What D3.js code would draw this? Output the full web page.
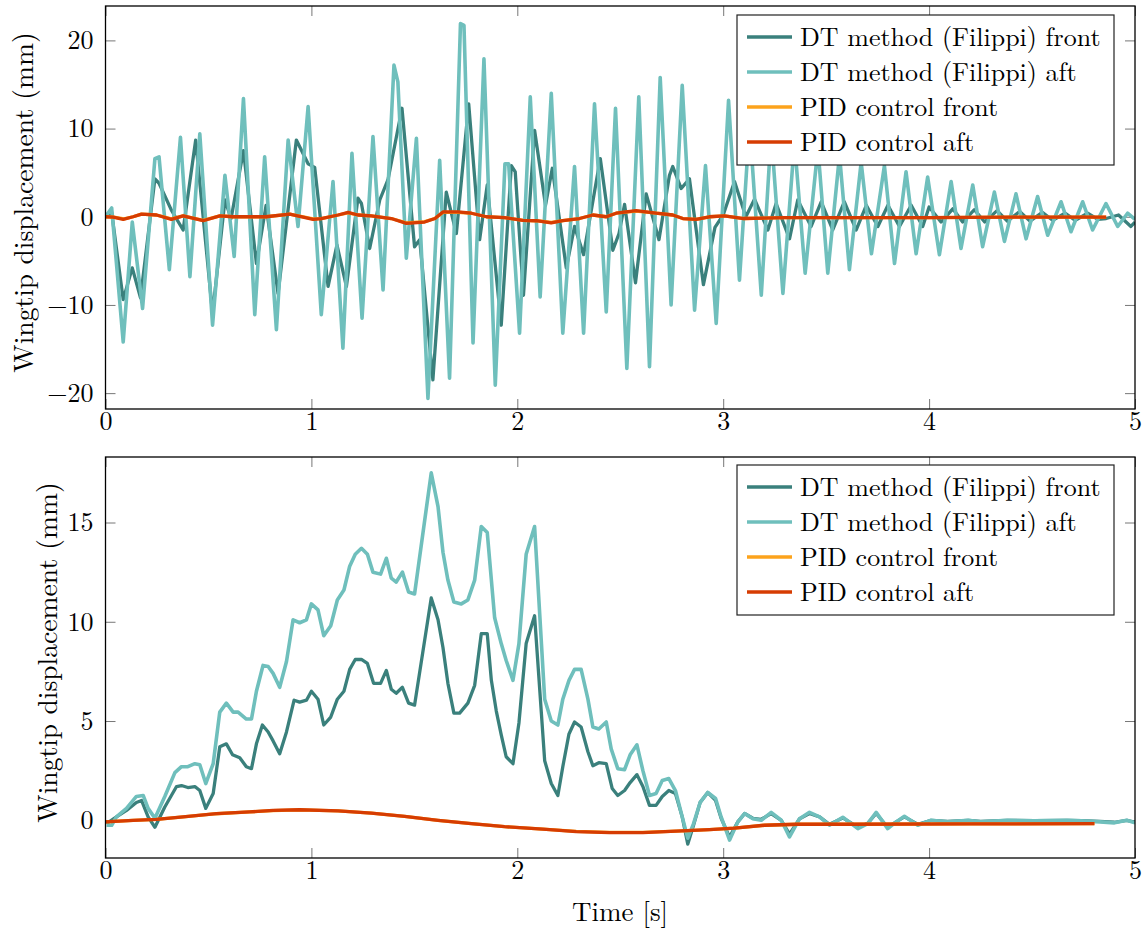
<!DOCTYPE html>
<html><head><meta charset="utf-8">
<script src="https://cdn.jsdelivr.net/npm/d3@7"></script>
<style>
body{margin:0;background:#fff}
svg{display:block}
</style>
</head><body>
<svg id="c" width="1145" height="928"></svg>
<script>
// ---------- labels / ticks ----------
const seriesNames = ["DT method (Filippi) front","DT method (Filippi) aft","PID control front","PID control aft"];
const seriesColors = ["#3a807c","#6fbfbc","#fca31c","#d63c02"];
const xTicks = [0,1,2,3,4,5];
const topYTicks = [-20,-10,0,10,20];
const botYTicks = [0,5,10,15];
const yTitle = "Wingtip displacement (mm)";
const xTitle = "Time [s]";

// ---------- top panel data: [time s, displacement mm] ----------
const topFrontDT = [[0,0],[0.03,0.5],[0.086,-9.4],[0.13,-5.8],[0.17,-9.2],[0.24,4.3],[0.26,3.8],[0.32,0.75],[0.377,-1.5],[0.438,8.7],[0.52,-11],[0.58,1.9],[0.61,-0.2],[0.67,7.5],[0.733,-5.3],[0.78,1.3],[0.838,-8.7],[0.927,8.7],[0.984,6],[1.016,5.6],[1.081,-7.9],[1.124,-3.2],[1.17,-7.9],[1.226,2.1],[1.243,1.5],[1.283,-3.6],[1.332,1.9],[1.372,4.2],[1.44,12.3],[1.501,-3.4],[1.526,-2.6],[1.59,-18.5],[1.655,2.8],[1.704,-1.9],[1.764,12.8],[1.817,-2.6],[1.854,3.6],[1.922,-12.3],[1.971,5.8],[1.99,5.1],[2.03,-8.9],[2.084,9.8],[2.137,1.3],[2.17,5.5],[2.238,-5.8],[2.278,-1.1],[2.322,-4.3],[2.403,6.6],[2.464,-3.8],[2.494,-1.9],[2.521,1.4],[2.574,-7.5],[2.626,2.6],[2.688,-2.6],[2.739,4.7],[2.755,5.7],[2.796,3.2],[2.836,4.3],[2.904,-7.7],[2.96,-1.2],[3.0,0.2],[3.055,4.0],[3.11,0],[3.152,2.0],[3.217,-1.5],[3.257,1.5],[3.322,-2.5],[3.362,1.9],[3.427,-1.1],[3.476,1.7],[3.532,-1.5],[3.588,1.7],[3.646,-1.5],[3.695,1.3],[3.751,-1.1],[3.8,1.3],[3.856,-1.1],[3.913,1.3],[3.969,-1.1],[4.0,1.1],[4.058,-0.6],[4.115,0.9],[4.163,-0.6],[4.22,0.8],[4.27,-0.6],[4.33,0.7],[4.38,-0.5],[4.44,0.6],[4.49,-0.5],[4.55,0.5],[4.6,-0.4],[4.66,0.4],[4.71,-0.4],[4.77,0.4],[4.82,-0.3],[4.86,-0.2],[4.92,0.2],[4.98,-1.1],[5.0,-0.6]];
const topAftDT = [[0,0],[0.03,1.0],[0.086,-14.2],[0.13,-0.6],[0.18,-10.4],[0.24,6.6],[0.26,6.8],[0.31,-6],[0.364,9],[0.41,-6.8],[0.458,9.4],[0.52,-12.3],[0.58,4.7],[0.625,-4.5],[0.67,13.4],[0.725,-11.1],[0.773,6.8],[0.83,-12.8],[0.887,8.7],[0.935,-1.1],[0.984,12.5],[1.048,-11.1],[1.105,4],[1.153,-14.9],[1.197,7.2],[1.246,-11.5],[1.299,9.1],[1.348,-8.3],[1.401,17.2],[1.42,15.3],[1.461,-4.7],[1.51,8.9],[1.566,-20.6],[1.623,6.4],[1.671,-18.3],[1.724,21.9],[1.741,21.7],[1.785,-14.3],[1.838,17.9],[1.893,-19.1],[1.94,6.0],[1.958,6.0],[2.011,-13.2],[2.063,13.6],[2.111,-9.1],[2.165,14.0],[2.221,-13.2],[2.278,5.7],[2.322,-13.2],[2.375,12.8],[2.432,-10.8],[2.477,12.3],[2.532,-17.2],[2.59,13.6],[2.642,-17],[2.694,15.8],[2.747,-10],[2.801,14.9],[2.861,-10.6],[2.914,5.8],[2.966,-12.1],[3.026,13.2],[3.079,-7.2],[3.128,10.5],[3.185,-8.9],[3.233,9.5],[3.29,-8.7],[3.346,8.5],[3.398,-6.4],[3.46,7.8],[3.508,-6.4],[3.565,7],[3.613,-6],[3.67,6.2],[3.72,-4.2],[3.783,5.8],[3.832,-5.3],[3.888,5.1],[3.937,-4.2],[3.993,4.5],[4.05,-4.3],[4.107,4],[4.155,-3.6],[4.212,3.6],[4.26,-3.4],[4.317,2.8],[4.366,-2.8],[4.422,2.6],[4.471,-2.5],[4.527,2.3],[4.576,-2.1],[4.641,1.7],[4.689,-1.7],[4.746,1.7],[4.794,-1.5],[4.859,1.5],[4.916,-1.1],[4.964,0.4],[5.0,-0.3]];
const topPidAft = [[0,0],[0.037,-0.05],[0.086,-0.3],[0.134,0],[0.175,0.3],[0.248,0.2],[0.32,-0.3],[0.377,0.1],[0.474,-0.45],[0.555,0.1],[0.62,0],[0.78,0],[0.895,0.3],[1.008,-0.3],[1.048,-0.2],[1.13,0.2],[1.178,0.5],[1.226,0.2],[1.291,0.1],[1.388,-0.2],[1.461,-0.75],[1.55,-0.6],[1.6,-0.2],[1.639,0.55],[1.712,0.55],[1.777,0.4],[1.85,0],[1.938,-0.1],[2.027,-0.4],[2.092,-0.45],[2.165,-0.7],[2.221,-0.45],[2.302,-0.2],[2.367,0.2],[2.432,0],[2.48,0.4],[2.577,0.7],[2.674,0.4],[2.755,0.2],[2.804,-0.2],[2.868,-0.3],[2.933,0],[3.006,0.1],[3.1,-0.2],[3.3,-0.1],[3.6,-0.1],[4.0,-0.1],[4.4,-0.05],[4.86,-0.05]];
const topPidFront = [[0,0],[0.04,-0.05],[0.09,-0.25],[0.134,0],[0.175,0.3],[0.248,0.2],[0.32,-0.25],[0.377,0.1],[0.474,-0.4],[0.555,0.1],[0.62,0],[0.78,0],[0.895,0.3],[1.008,-0.25],[1.048,-0.2],[1.13,0.2],[1.178,0.45],[1.226,0.2],[1.291,0.1],[1.388,-0.2],[1.461,-0.7],[1.55,-0.55],[1.6,-0.2],[1.639,0.5],[1.712,0.5],[1.777,0.4],[1.85,0],[1.938,-0.1],[2.027,-0.4],[2.092,-0.45],[2.165,-0.65],[2.221,-0.45],[2.302,-0.2],[2.367,0.2],[2.432,0],[2.48,0.4],[2.577,0.65],[2.674,0.4],[2.755,0.2],[2.804,-0.2],[2.868,-0.3],[2.933,0],[3.006,0.1],[3.1,-0.2],[3.3,-0.1],[3.6,-0.1],[4.0,-0.1],[4.4,-0.05],[4.86,-0.05]];

// ---------- bottom panel data ----------
const botFrontDT = [[0.005,-0.17],[0.053,0.17],[0.102,0.5],[0.15,0.9],[0.175,1.0],[0.207,0.17],[0.24,-0.35],[0.288,0.67],[0.345,1.7],[0.369,1.75],[0.40,1.65],[0.434,1.7],[0.458,1.5],[0.487,0.6],[0.523,1.35],[0.555,3.7],[0.587,3.85],[0.617,3.3],[0.652,3.15],[0.684,2.7],[0.709,2.6],[0.733,3.85],[0.762,4.8],[0.79,4.45],[0.814,4.0],[0.846,3.35],[0.879,4.45],[0.916,6.05],[0.943,5.95],[0.976,6.05],[1.0,6.5],[1.032,6.1],[1.06,4.8],[1.094,5.2],[1.126,6.1],[1.158,6.5],[1.186,7.6],[1.213,8.1],[1.243,8.1],[1.272,7.9],[1.302,6.9],[1.336,6.9],[1.364,7.55],[1.388,6.6],[1.412,6.4],[1.442,6.7],[1.472,5.9],[1.501,5.8],[1.582,11.2],[1.615,10.1],[1.639,8.7],[1.663,6.9],[1.692,5.4],[1.72,5.4],[1.76,5.9],[1.793,6.8],[1.825,9.4],[1.854,9.4],[1.874,7.05],[1.898,5.5],[1.922,4.3],[1.946,3.2],[1.979,2.85],[2.008,4.9],[2.043,8.9],[2.084,10.3],[2.133,3.0],[2.165,1.85],[2.197,1.25],[2.221,2.7],[2.251,4.35],[2.278,4.95],[2.31,4.7],[2.343,3.45],[2.367,2.75],[2.396,2.9],[2.432,2.85],[2.461,1.6],[2.488,1.25],[2.521,1.5],[2.548,1.9],[2.581,2.3],[2.61,1.7],[2.642,0.75],[2.674,0.75],[2.704,1.2],[2.736,1.5],[2.768,1.35],[2.801,0.17],[2.828,-1.2],[2.856,-0.25],[2.888,0.9],[2.925,1.4],[2.963,1.0],[2.99,0.1],[3.031,-0.85],[3.071,-0.08],[3.104,0.34],[3.144,0.1],[3.185,0.05],[3.233,0.34],[3.282,0],[3.322,-0.7],[3.371,0.08],[3.419,0.34],[3.468,0.17],[3.516,-0.2],[3.581,0.12],[3.654,-0.35],[3.702,-0.15],[3.743,0.34],[3.799,-0.35],[3.84,-0.08],[3.88,0.17],[3.945,-0.2],[4.01,0],[4.09,-0.06],[4.19,0],[4.25,-0.06],[4.38,0],[4.51,-0.02],[4.67,0],[4.74,-0.02],[4.83,-0.06],[4.9,-0.1],[4.96,0],[5.0,-0.1]];
const botAftDT = [[0.005,-0.25],[0.03,-0.25],[0.053,0.17],[0.102,0.6],[0.15,1.2],[0.183,1.25],[0.207,0.6],[0.24,0.1],[0.288,1.2],[0.337,2.4],[0.369,2.7],[0.40,2.7],[0.434,2.85],[0.458,2.8],[0.487,1.85],[0.523,2.85],[0.555,5.45],[0.587,5.9],[0.62,5.45],[0.644,5.45],[0.684,5.1],[0.709,5.1],[0.733,6.5],[0.765,7.8],[0.79,7.75],[0.814,7.4],[0.846,6.7],[0.879,8.0],[0.911,10.1],[0.943,9.95],[0.976,10.1],[1.0,10.9],[1.032,10.6],[1.06,9.3],[1.094,9.8],[1.126,11.1],[1.158,11.6],[1.186,12.8],[1.213,13.4],[1.243,13.7],[1.272,13.4],[1.299,12.5],[1.336,12.4],[1.364,13.2],[1.388,12.2],[1.412,12.0],[1.442,12.5],[1.472,11.5],[1.501,11.4],[1.582,17.5],[1.615,15.8],[1.639,13.5],[1.663,12.1],[1.692,11.0],[1.728,10.9],[1.76,11.1],[1.793,12.1],[1.825,14.8],[1.854,14.5],[1.89,10.2],[1.922,8.9],[1.946,8.05],[1.979,7.05],[2.008,8.9],[2.043,13.4],[2.084,14.8],[2.133,6.1],[2.165,5.0],[2.197,4.8],[2.221,6.1],[2.251,7.05],[2.278,7.6],[2.31,7.6],[2.343,6.1],[2.367,4.7],[2.396,4.6],[2.432,4.95],[2.456,3.6],[2.488,2.6],[2.521,2.55],[2.548,3.3],[2.581,3.8],[2.61,2.5],[2.642,1.25],[2.674,1.35],[2.704,2.0],[2.736,2.1],[2.768,1.5],[2.801,0.17],[2.828,-0.9],[2.856,-0.17],[2.888,0.9],[2.925,1.4],[2.963,1.1],[2.99,0.17],[3.031,-1.0],[3.071,-0.08],[3.104,0.34],[3.144,0.08],[3.185,0],[3.233,0.4],[3.282,0],[3.322,-0.84],[3.371,0.08],[3.419,0.4],[3.468,0.17],[3.516,-0.25],[3.581,0.15],[3.654,-0.42],[3.702,-0.17],[3.743,0.4],[3.799,-0.42],[3.84,-0.08],[3.88,0.2],[3.945,-0.25],[4.01,0],[4.09,-0.08],[4.19,0],[4.25,-0.08],[4.38,0],[4.51,-0.03],[4.67,0],[4.74,-0.03],[4.83,-0.08],[4.9,-0.13],[4.96,0],[5.0,-0.13]];
const botPidAft = [[0,-0.08],[0.134,0],[0.248,0.05],[0.377,0.17],[0.539,0.34],[0.7,0.42],[0.814,0.5],[0.943,0.53],[1.13,0.47],[1.291,0.36],[1.453,0.2],[1.615,0],[1.777,-0.17],[1.938,-0.32],[2.124,-0.45],[2.286,-0.57],[2.448,-0.62],[2.61,-0.62],[2.772,-0.55],[2.933,-0.47],[3.055,-0.4],[3.2,-0.25],[3.362,-0.2],[3.605,-0.2],[4.2,-0.18],[4.803,-0.17]];
const botPidFront = [[0,-0.08],[0.134,0],[0.248,0.05],[0.377,0.17],[0.539,0.33],[0.7,0.42],[0.814,0.49],[0.943,0.52],[1.13,0.47],[1.291,0.36],[1.453,0.2],[1.615,0],[1.777,-0.17],[1.938,-0.32],[2.124,-0.45],[2.286,-0.56],[2.448,-0.61],[2.61,-0.61],[2.772,-0.55],[2.933,-0.47],[3.055,-0.4],[3.2,-0.25],[3.362,-0.2],[3.605,-0.2],[4.2,-0.18],[4.803,-0.17]];

// ---------- drawing ----------
const CM = "Latin Modern Roman";
const svg = d3.select("#c");
const X0 = 105.5, X1 = 1135;

function panel(cfg){
  const x = d3.scaleLinear().domain([0,5]).range([X0, X1]);
  const y = d3.scaleLinear().domain(cfg.yDomain).range([cfg.bottom, cfg.top]);
  const g = svg.append("g");
  const clipId = "clip" + cfg.id;
  svg.append("clipPath").attr("id", clipId).append("rect")
    .attr("x", X0).attr("y", cfg.top).attr("width", X1 - X0).attr("height", cfg.bottom - cfg.top);

  const tickCol = "#777";
  const ax = (a, tr, labels) => {
    const s = g.append("g").attr("transform", tr).call(a);
    s.attr("font-family", null);
    s.select(".domain").remove();
    s.selectAll(".tick line").attr("stroke", tickCol).attr("stroke-width", 1);
    if (!labels) s.selectAll("text").remove();
    else s.selectAll("text").attr("font-size", 26).attr("font-family", CM).attr("fill", "#000");
    return s;
  };
  const yFmt = d => d < 0 ? "\u2212" + Math.abs(d) : String(d);
  ax(d3.axisLeft(y).tickValues(cfg.yTicks).tickSizeInner(-10).tickSizeOuter(0).tickPadding(12).tickFormat(yFmt), `translate(${X0},0)`, true);
  ax(d3.axisRight(y).tickValues(cfg.yTicks).tickSizeInner(-10).tickSizeOuter(0), `translate(${X1},0)`, false);
  ax(d3.axisBottom(x).tickValues(xTicks).tickSizeInner(-10).tickSizeOuter(0).tickPadding(cfg.xPad).tickFormat(d3.format("d")), `translate(0,${cfg.bottom})`, true);
  ax(d3.axisTop(x).tickValues(xTicks).tickSizeInner(-10).tickSizeOuter(0), `translate(0,${cfg.top})`, false);

  const line = d3.line().x(d => x(d[0])).y(d => y(d[1]));
  const lg = g.append("g").attr("clip-path", `url(#${clipId})`);
  cfg.series.forEach((s, i) => {
    lg.append("path").datum(s).attr("d", line).attr("fill", "none")
      .attr("stroke", seriesColors[i]).attr("stroke-width", i === 1 ? 3.6 : 3.3)
      .attr("stroke-linejoin", "round");
  });

  g.append("rect").attr("x", X0).attr("y", cfg.top).attr("width", X1 - X0).attr("height", cfg.bottom - cfg.top)
    .attr("fill", "none").attr("stroke", "#000").attr("stroke-width", 1.3);

  const cy = (cfg.top + cfg.bottom) / 2 - 5;
  g.append("text").attr("transform", `translate(${cfg.yTitleX},${cy}) rotate(-90)`)
    .attr("text-anchor", "middle").attr("font-size", 27.6).attr("font-family", CM).text(yTitle);

  const L = cfg.legend;
  const lgd = g.append("g");
  lgd.append("rect").attr("x", L.x).attr("y", L.y).attr("width", L.w).attr("height", L.h)
    .attr("fill", "#fff").attr("stroke", "#222").attr("stroke-width", 1.2);
  seriesNames.forEach((n, i) => {
    const ry = L.y + 22 + i * 35;
    lgd.append("line").attr("x1", L.x + 10).attr("x2", L.x + 55).attr("y1", ry).attr("y2", ry)
      .attr("stroke", seriesColors[i]).attr("stroke-width", 3.3);
    lgd.append("text").attr("x", L.x + 63).attr("y", ry + 9).attr("font-size", 26)
      .attr("font-family", CM).text(n);
  });
}

panel({id:"t", top:6, bottom:409, yDomain:[-21.8,23.9], yTicks:topYTicks, yTitleX:33, xPad:3,
  series:[topFrontDT, topAftDT, topPidFront, topPidAft],
  legend:{x:737, y:15, w:377, h:150}});
panel({id:"b", top:457, bottom:858, yDomain:[-1.9,18.3], yTicks:botYTicks, yTitleX:57, xPad:3,
  series:[botFrontDT, botAftDT, botPidFront, botPidAft],
  legend:{x:737, y:465, w:377, h:150}});

svg.append("text").attr("x", 620).attr("y", 921).attr("text-anchor", "middle").attr("font-size", 27).attr("font-family", CM).text(xTitle);
</script>
</body></html>
